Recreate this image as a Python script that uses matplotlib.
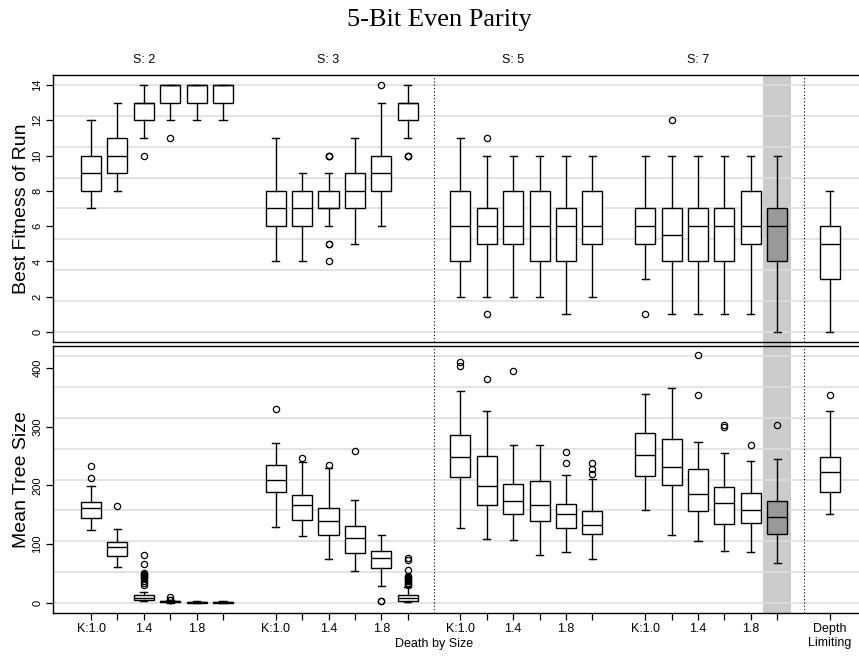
import numpy as np
import matplotlib.pyplot as plt

# group / setting labels
groups = ['S: 2', 'S: 3', 'S: 5', 'S: 7']
k_labels = ['K:1.0', '', '1.4', '', '1.8', '']
extra_label = 'Depth\nLimiting'

# best fitness of run: 4 groups x 6 K values, then depth limiting
fit_wlo = [7, 8, 11, 12, 12, 12, 4, 4, 6, 5, 6, 11, 2, 2, 2, 2, 1, 2, 3, 1, 1, 1, 1, 0, 0]
fit_q1 = [8, 9, 12, 13, 13, 13, 6, 6, 7, 7, 8, 12, 4, 5, 5, 4, 4, 5, 5, 4, 4, 4, 5, 4, 3]
fit_med = [9, 10, 13, 14, 14, 14, 7, 7, 7, 8, 9, 13, 6, 6, 6, 6, 6, 6, 6, 5.5, 6, 6, 6, 6, 5]
fit_q3 = [10, 11, 13, 14, 14, 14, 8, 8, 8, 9, 10, 13, 8, 7, 8, 8, 7, 8, 7, 7, 7, 7, 8, 7, 6]
fit_whi = [12, 13, 14, 14, 14, 14, 11, 9, 9, 11, 13, 14, 11, 10, 10, 10, 10, 10, 10, 10, 10, 10, 10, 10, 8]
fit_out = [[], [], [10], [11], [], [],
           [], [], [10, 10, 10, 5, 5, 4], [], [14], [10, 10, 10],
           [], [11, 1], [], [], [], [],
           [1], [12], [], [], [], [],
           []]

# mean tree size
size_wlo = [124, 61, 3, 1, 1, 1, 130, 114, 75, 54, 29, 2, 128, 109, 107, 81, 86, 75, 159, 115, 105, 89, 87, 68, 152]
size_q1 = [145, 80, 5, 2, 1, 1, 189, 141, 115, 85, 59, 3, 215, 167, 152, 140, 128, 118, 216, 200, 157, 135, 136, 118, 189]
size_med = [161, 95, 9, 3, 2, 2, 210, 166, 140, 111, 76, 8, 248, 199, 173, 167, 152, 133, 252, 231, 186, 170, 159, 147, 222]
size_q3 = [171, 104, 14, 4, 2, 2, 235, 183, 161, 131, 88, 14, 286, 250, 202, 208, 169, 157, 289, 278, 227, 198, 187, 174, 248]
size_whi = [199, 126, 19, 5, 3, 3, 272, 240, 229, 175, 115, 27, 360, 326, 269, 269, 217, 211, 356, 366, 274, 255, 242, 244, 326]
size_out = [[212, 233], [165], [82, 67, 52, 50, 48, 46, 45, 43, 37, 35, 30], [11, 6, 5], [], [],
            [330], [246], [234], [259], [3, 3], [76, 74, 57, 46, 44, 42, 41, 40, 38, 35, 33, 30],
            [409, 403], [380], [395], [], [257, 238], [238, 228, 220],
            [], [], [422, 353], [303, 300], [269], [303],
            [354]]

highlight = 23  # index of the shaded box (S: 7, last K)

# box positions: groups of 6 with a one-slot gap, extra box after another gap
n_k = len(k_labels)
positions = []
for g in range(len(groups)):
    positions += [g * (n_k + 1) + i + 1 for i in range(n_k)]
positions.append(positions[-1] + 2)
tick_labels = k_labels * len(groups) + [extra_label]


def make_stats(wlo, q1, med, q3, whi, out):
    return [dict(whislo=a, q1=b, med=c, q3=d, whishi=e, fliers=f)
            for a, b, c, d, e, f in zip(wlo, q1, med, q3, whi, out)]


W, H = 859, 656
fig = plt.figure(figsize=(W / 100, H / 100), dpi=100)
plt.rcParams['font.family'] = 'Liberation Sans'

px_unit = 26.39
x_lo, x_hi = -0.44, 30.5
left = 53
right = left + (x_hi - x_lo) * px_unit


def add_axes(top, bottom):
    return fig.add_axes([left / W, 1 - bottom / H, (right - left) / W, (bottom - top) / H])


ax_top = add_axes(75, 342)
ax_bot = add_axes(346, 613)

panels = [
    (ax_top, make_stats(fit_wlo, fit_q1, fit_med, fit_q3, fit_whi, fit_out), 14, 2, 'Best Fitness of Run'),
    (ax_bot, make_stats(size_wlo, size_q1, size_med, size_q3, size_whi, size_out), 420, 100, 'Mean Tree Size'),
]

hl_pos = positions[highlight]
for ax, stats, top_val, step, ylabel in panels:
    pad = top_val * 0.04
    ax.set_ylim(-pad, top_val + pad)
    ax.set_xlim(x_lo, x_hi)
    for y in np.linspace(0, top_val, 9):
        ax.axhline(y, color='#dedede', lw=1.2, zorder=1)
    ax.axvspan(hl_pos - 0.52, hl_pos + 0.52, color='#cccccc', lw=0, zorder=0)
    for xv in [positions[2 * n_k - 1] + 1, positions[-1] - 1]:
        ax.axvline(xv, color='black', ls=(0, (1, 2)), lw=0.8, zorder=2)
    bp = ax.bxp(stats, positions=positions, widths=0.76, capwidths=0.27,
                patch_artist=True, manage_ticks=False,
                boxprops=dict(facecolor='white', edgecolor='black', lw=1.0),
                medianprops=dict(color='black', lw=1.0),
                whiskerprops=dict(color='black', lw=1.0),
                capprops=dict(color='black', lw=1.0),
                flierprops=dict(marker='o', mfc='none', mec='black', ms=4.5, mew=0.9))
    for art in bp['boxes'] + bp['medians'] + bp['whiskers'] + bp['caps'] + bp['fliers']:
        art.set_zorder(3)
    bp['boxes'][highlight].set_facecolor('#999999')
    ax.set_yticks(np.arange(0, top_val + 1, step))
    ax.tick_params(axis='y', length=5, width=0.9, pad=2.5, labelsize=8, labelrotation=90)
    for lab in ax.get_yticklabels():
        lab.set_va('center')
    for sp in ax.spines.values():
        sp.set_linewidth(1.0)
    ax.spines['right'].set_visible(False)
    ax.set_facecolor('none')
    yc = 1 - ((ax.get_position().y0 + ax.get_position().y1) / 2)
    fig.text(21.7 / W, 1 - yc, ylabel, rotation=90, ha='center', va='center', fontsize=14)

# band continues through the gap between panels
ax_top.axvspan(hl_pos - 0.52, hl_pos + 0.52, ymin=-0.03, ymax=0, color='#cccccc', lw=0,
               zorder=0, clip_on=False)

ax_top.set_xticks([])
for g, name in enumerate(groups):
    ax_top.text(positions[g * n_k + 2], 1.056, name, transform=ax_top.get_xaxis_transform(),
                ha='center', va='center', fontsize=9)

ax_bot.set_xticks(positions)
ax_bot.set_xticklabels(tick_labels, fontsize=9, linespacing=1.25)
ax_bot.tick_params(axis='x', length=5, width=0.9, pad=2)
ax_bot.text(positions[2 * n_k - 1] + 1, -0.116, 'Death by Size', transform=ax_bot.get_xaxis_transform(),
            ha='center', va='center', fontsize=9)

fig.text(439 / W, 1 - 20 / H, '5-Bit Even Parity', ha='center', va='center',
         family='Liberation Serif', fontsize=19)

fig.savefig('out.png', dpi=100)
